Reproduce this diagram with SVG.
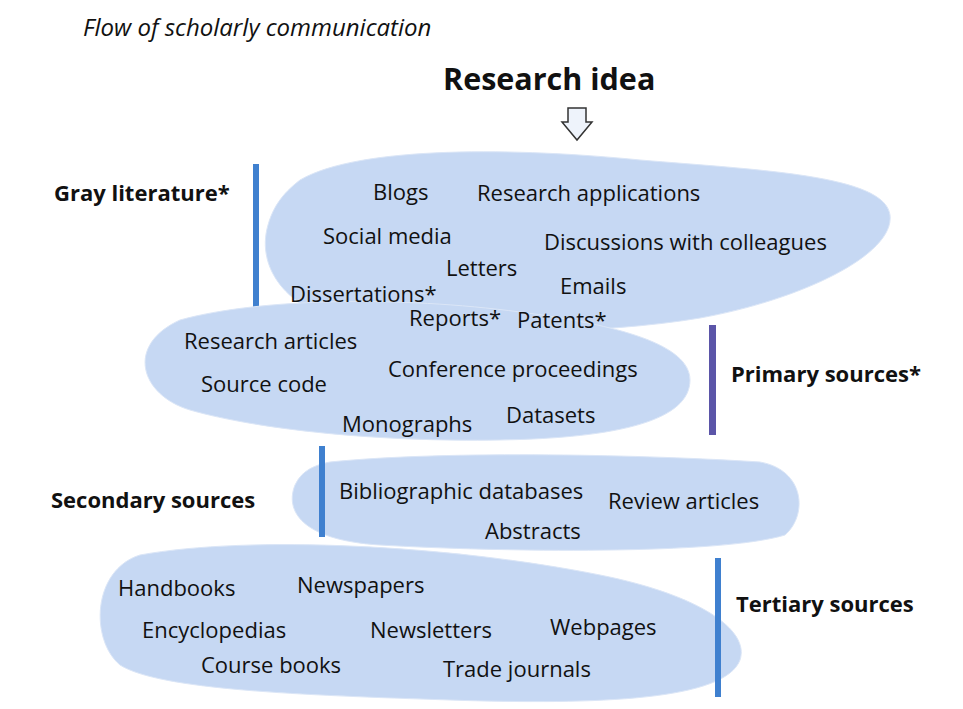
<svg xmlns="http://www.w3.org/2000/svg" width="963" height="709" viewBox="0 0 963 709">
<style>
.b{fill:#c6d8f3;stroke:#dbe6f7;stroke-width:1}
text{font-family:"Open Sans","Liberation Sans",sans-serif;font-size:22px;fill:#111}
.h{font-weight:bold}
</style>
<rect width="963" height="709" fill="#fff"/>
<text x="83" y="36" style="font-style:italic;font-size:24px">Flow of scholarly communication</text>
<text x="443" y="90" class="h" style="font-size:30.5px">Research idea</text>
<g id="arrow"><path d="M568,108 H586 V122 H592 L577,140 L562,122 H568 Z" fill="#eef3fb" stroke="#333" stroke-width="1.5"/></g>
<g id="gray">
<path class="b" d="M300,180 C360,145 520,148 640,160 C760,170 885,175 890,215 C895,255 800,300 700,318 C600,335 450,335 360,325 C290,315 255,270 268,225 C275,200 290,188 300,180 Z"/>
<rect x="253" y="164" width="6" height="144" fill="#3f80cf"/>
<text x="54" y="201" class="h">Gray literature*</text>
<text x="373" y="200">Blogs</text><text x="477" y="201">Research applications</text>
<text x="323" y="244">Social media</text><text x="544" y="250">Discussions with colleagues</text>
<text x="446" y="276">Letters</text><text x="560" y="294">Emails</text>
</g>
<g id="primary">
<path class="b" d="M180,320 C260,298 400,296 520,312 C620,325 690,345 690,380 C690,420 620,438 500,440 C380,442 260,430 190,410 C140,395 125,345 180,320 Z"/>
<rect x="709" y="325" width="7" height="110" fill="#5b55a8"/>
<text x="731" y="382" class="h">Primary sources*</text>
<text x="290" y="302">Dissertations*</text>
<text x="409" y="326">Reports*</text><text x="517" y="328">Patents*</text>
<text x="184" y="349">Research articles</text><text x="388" y="377">Conference proceedings</text>
<text x="201" y="392">Source code</text><text x="506" y="423">Datasets</text>
<text x="342" y="432">Monographs</text>
</g>
<g id="secondary">
<path class="b" d="M330,462 C450,450 650,455 760,462 C805,470 808,515 785,535 C720,555 500,552 380,545 C300,540 285,510 295,485 C302,470 315,465 330,462 Z"/>
<rect x="319" y="446" width="6" height="91" fill="#3f80cf"/>
<text x="51" y="508" class="h">Secondary sources</text>
<text x="339" y="499">Bibliographic databases</text><text x="608" y="509">Review articles</text>
<text x="485" y="539">Abstracts</text>
</g>
<g id="tertiary">
<path class="b" d="M140,555 C250,535 450,545 600,575 C700,595 750,630 740,660 C725,700 600,705 450,700 C300,695 160,690 120,665 C90,640 92,570 140,555 Z"/>
<rect x="715" y="558" width="6" height="139" fill="#3f80cf"/>
<text x="736" y="612" class="h">Tertiary sources</text>
<text x="118" y="596">Handbooks</text><text x="297" y="593">Newspapers</text>
<text x="142" y="638">Encyclopedias</text><text x="370" y="638">Newsletters</text><text x="550" y="635">Webpages</text>
<text x="201" y="673">Course books</text><text x="443" y="677">Trade journals</text>
</g>
</svg>
